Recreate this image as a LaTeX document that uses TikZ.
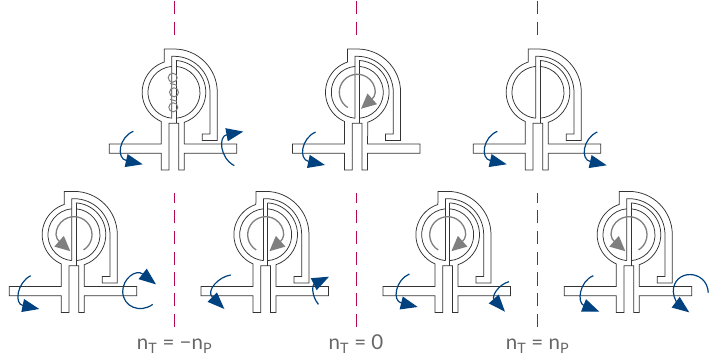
\documentclass[tikz,border=0pt]{standalone}
\usepackage{fontspec}
\setmainfont{Lato}
\usetikzlibrary{arrows.meta}
\definecolor{linegray}{HTML}{333333}
\definecolor{spingray}{HTML}{7F7F7F}
\definecolor{turnblue}{HTML}{00427F}
\definecolor{markred}{HTML}{B5084F}
\definecolor{textgray}{HTML}{666666}

\begin{document}
\begin{tikzpicture}[x=1pt, y=1pt,
    turn/.style={draw=turnblue, line width=1.2pt, -{Triangle[length=17pt,width=13pt]}},
    spin/.style={draw=spingray, line width=1.3pt, -{Triangle[length=15pt,width=14pt]}},
    coil/.style={draw=spingray, line width=1pt},
    split/.style={draw=markred, line width=1pt, dash pattern=on 13.3pt off 7.4pt},
    speed/.style={anchor=base, text=textgray, font=\fontsize{20.5}{24}\selectfont},
    pics/coupling/.style={code={
      % housing, shafts and bar
      \draw[linegray, line width=0.75pt]
        (2,31.8) arc[start angle=86.4, end angle=-71, radius=31.8]
        -- (10.3,-51.7) -- (62.7,-51.7) -- (62.7,-61) -- (10.3,-61) -- (10.3,-77.7)
        -- (4.7,-77.7) -- (4.7,-31) -- (-5,-31) -- (-5,-77.7) -- (-12.7,-77.7)
        -- (-12.7,-61) -- (-64.7,-61) -- (-64.7,-51.7) -- (-12.7,-51.7) -- (-12.7,-29.2)
        arc[start angle=246.5, end angle=108, radius=31.8]
        -- (-9.7,43.3) -- (0,43.3) arc[start angle=90, end angle=0, radius=43.3]
        -- (43.3,-48.3) -- (28.3,-48.3) -- (28.3,-41.7) -- (36,-41.7) -- (36,0)
        arc[start angle=0, end angle=90, radius=36] -- (-2.3,36) -- (-2.3,-26);
      \draw[linegray, line width=0.75pt] (2,32) -- (2,-31);
      \draw[linegray, line width=0.75pt] (-2.3,25.9) arc[start angle=95, end angle=265, radius=26];
      \draw[linegray, line width=0.75pt] (2,25.9) arc[start angle=85.6, end angle=-85.6, radius=26];
    }},
    pics/spinner/.style={code={
      \draw[spin] (238:18) arc[start angle=238, end angle=0, radius=18]
        .. controls (18,-3) and (16,-5.6) .. (3.7,-16.5);
    }}]
  \useasboundingbox (0,0) rectangle (715,361);

  % separators
  \foreach \posx in {174,356,537.5} {
    \draw[split] (\posx,360) -- (\posx,326);
    \draw[split] (\posx,34) -- (\posx,168);
  }

  % top row
  \begin{scope}[shift={(174,268.7)}]
    \pic {coupling};
    \draw[coil] (-1.3,14.6) circle[radius=4.5] (0,0) circle[radius=4.5] (-0.7,-15) circle[radius=4.5];
    \draw[coil] (-4,9) -- (3,7) (-4,-7) -- (3,-9);
    \draw[turn] (-40.7,-39) .. controls (-55,-45) and (-58,-66) .. (-31.3,-72);
    \draw[turn] (60.3,-73.3) .. controls (46,-66) and (44,-44) .. (69.3,-39.3);
  \end{scope}
  \begin{scope}[shift={(357.3,268.7)}]
    \pic {coupling};
    \pic {spinner};
    \draw[turn] (-41.7,-39.7) .. controls (-56,-46) and (-59,-67) .. (-32.3,-72.7);
  \end{scope}
  \begin{scope}[shift={(538,268.7)}]
    \pic {coupling};
    \draw[turn] (-40.7,-39) .. controls (-55,-45) and (-58,-66) .. (-31.3,-72);
    \draw[turn] (59.3,-39.7) .. controls (45,-46) and (42,-67) .. (68.7,-73);
  \end{scope}

  % bottom row
  \begin{scope}[shift={(74,126.3)}]
    \pic {coupling};
    \pic[xscale=-1] {spinner};
    \draw[turn] (-43.3,-41) .. controls (-57,-48) and (-60,-69) .. (-34.7,-74.3);
    \draw[turn] (78.7,-69.7) .. controls (66,-79) and (49,-72) .. (48.7,-57)
      .. controls (48.5,-44) and (62,-34) .. (82,-49.7);
  \end{scope}
  \begin{scope}[shift={(265.7,126.3)}]
    \pic {coupling};
    \pic {spinner};
    \draw[turn] (-35,-40.3) .. controls (-47,-42) and (-60,-56) .. (-41.3,-74.3);
    \draw[turn] (52.7,-69.7) .. controls (45,-60) and (47,-50) .. (63.3,-42);
  \end{scope}
  \begin{scope}[shift={(447.7,126.3)}]
    \pic {coupling};
    \pic {spinner};
    \draw[turn] (-38.3,-39.3) .. controls (-52,-45) and (-56,-66) .. (-30,-72.3);
    \draw[turn] (61.3,-47) .. controls (50,-50) and (44,-62) .. (57.3,-77);
  \end{scope}
  \begin{scope}[shift={(629,126.3)}]
    \pic {coupling};
    \pic[xscale=-1] {spinner};
    \draw[turn] (-35.7,-41) .. controls (-50,-47) and (-52,-68) .. (-29.7,-77);
    \draw[turn] (79.3,-58) .. controls (78,-34) and (44,-34) .. (44.3,-57)
      .. controls (44.3,-64) and (50,-70) .. (60.3,-77.7);
  \end{scope}

  % speed labels
  \node[speed] (opposite) at (174.5,11) {n\textsubscript{T} = −n\textsubscript{P}};
  \node[speed] (stalled) at (356,11) {n\textsubscript{T} = 0};
  \node[speed] (matched) at (537.5,11) {n\textsubscript{T} = n\textsubscript{P}};
\end{tikzpicture}
\end{document}
